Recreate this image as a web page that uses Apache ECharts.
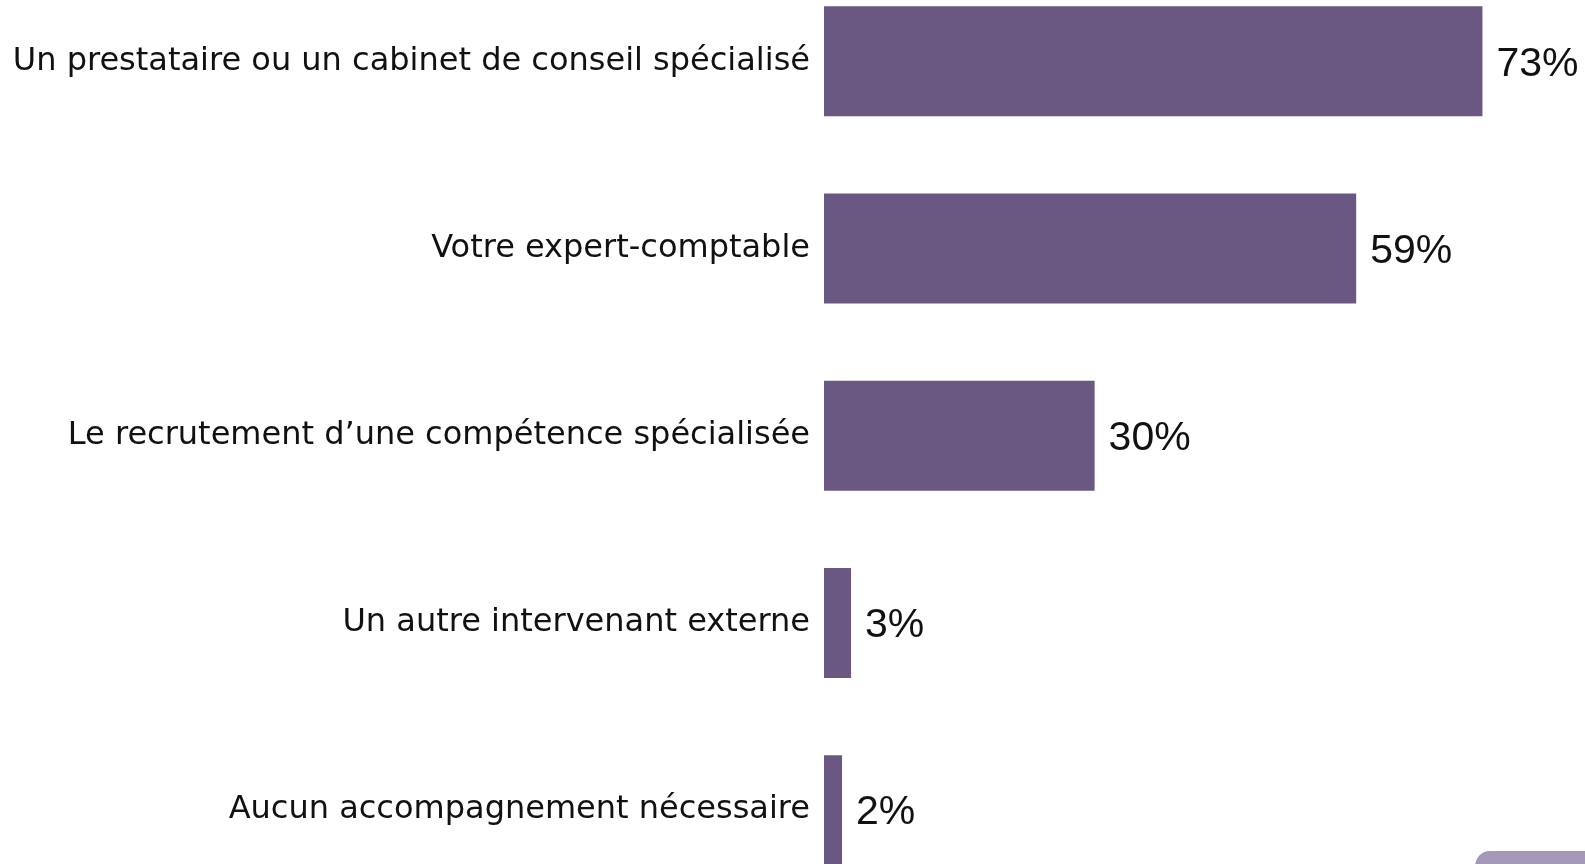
<!DOCTYPE html>
<html>
<head>
<meta charset="utf-8">
<script src="https://cdn.jsdelivr.net/npm/echarts@6/dist/echarts.min.js"></script>
<style>
  html, body { margin: 0; padding: 0; background: #fff; }
  #chart { width: 1585px; height: 864px; }
</style>
</head>
<body>
<div id="chart"></div>
<script>
const categories = [
  'Un prestataire ou un cabinet de conseil spécialisé',
  'Votre expert-comptable',
  'Le recrutement d\u2019une compétence spécialisée',
  'Un autre intervenant externe',
  'Aucun accompagnement nécessaire'
]
const values = [73, 59, 30, 3, 2]

const chart = echarts.init(document.getElementById('chart'))

chart.setOption({
  backgroundColor: '#fff',
  animation: false,
  grid: { left: 824, top: -32.4, width: 902, height: 936.2, outerBoundsMode: 'none' },
  xAxis: {
    type: 'value',
    min: 0,
    max: 100,
    show: false
  },
  yAxis: {
    type: 'category',
    data: categories,
    inverse: true,
    axisLine: { show: false },
    axisTick: { show: false },
    axisLabel: {
      margin: 14,
      color: '#111',
      fontSize: 32,
      fontFamily: 'DejaVu Sans',
      padding: [6, 0, 0, 0]
    }
  },
  series: [
    {
      type: 'bar',
      data: values,
      barWidth: 110,
      itemStyle: { color: '#6a5883' },
      label: {
        show: true,
        position: 'right',
        distance: 14,
        offset: [0, 3],
        formatter: '{c}%',
        color: '#111',
        fontSize: 41,
        fontFamily: 'Liberation Sans'
      }
    }
  ],
  graphic: [
    {
      type: 'rect',
      left: 1475,
      top: 851,
      shape: { width: 200, height: 60, r: 15 },
      style: { fill: '#a597b8' },
      silent: true
    }
  ]
})

window.addEventListener('resize', () => chart.resize())
</script>
</body>
</html>
